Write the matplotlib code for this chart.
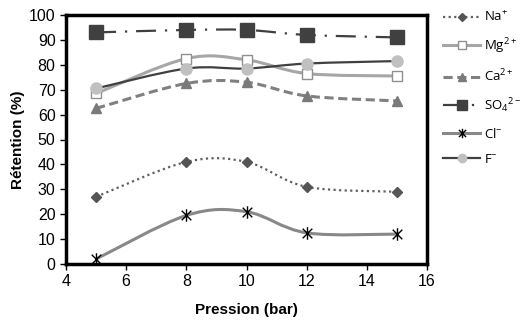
import numpy as np
import matplotlib
matplotlib.use("Agg")
from matplotlib import pyplot as plt
from matplotlib.path import Path
from matplotlib.patches import PathPatch
from matplotlib.lines import Line2D

# donnees
pression = [5, 8, 10, 12, 15]
na = [27, 41, 41, 31, 29]
mg = [68.5, 82.5, 82, 76.5, 75.5]
ca = [62.5, 72.5, 73, 67.5, 65.5]
so4 = [93, 94, 94, 92, 91]
cl = [2, 19.5, 21, 12.5, 12]
f = [70.5, 78.5, 78.5, 80.5, 81.5]

labels = ['Na$^{+}$', 'Mg$^{2+}$', 'Ca$^{2+}$', 'SO$_4$$^{2-}$', 'Cl$^{-}$', 'F$^{-}$']

plt.rcParams['font.family'] = ['Liberation Sans', 'DejaVu Sans']
plt.rcParams['mathtext.default'] = 'regular'

# marqueur etoile (x + barre verticale)
etoile = Path([(-1, -1), (1, 1), (-1, 1), (1, -1), (0, -1.3), (0, 1.3)],
              [Path.MOVETO, Path.LINETO, Path.MOVETO, Path.LINETO, Path.MOVETO, Path.LINETO])


def lisse(ax, x, y, **kw):
    # courbe lissee type Excel (Bezier)
    x = np.asarray(x, float)
    y = np.asarray(y, float)
    pts = np.column_stack([x, y])
    n = len(pts)
    verts = [pts[0]]
    codes = [Path.MOVETO]
    for i in range(n - 1):
        p0 = pts[i - 1] if i > 0 else pts[i]
        p1 = pts[i]
        p2 = pts[i + 1]
        p3 = pts[i + 2] if i + 2 < n else pts[i + 1]
        c1 = p1 + (p2 - p0) / 6
        c2 = p2 - (p3 - p1) / 6
        verts += [c1, c2, p2]
        codes += [Path.CURVE4] * 3
    ax.add_patch(PathPatch(Path(verts, codes), fill=False, **kw))


fig = plt.figure(figsize=(5.23, 3.25), dpi=100)
ax = fig.add_axes([66 / 523, 1 - 264 / 325, 361 / 523, 249 / 325])

series = [
    (na, dict(color='#606060', lw=1.6, ls=(0, (1, 1.5))), dict(marker='D', ms=5, mfc='#555555', mec='#555555')),
    (mg, dict(color='#a6a6a6', lw=2.2, ls='-'), dict(marker='s', ms=7, mfc='white', mec='#909090')),
    (ca, dict(color='#808080', lw=2.2, ls=(0, (3, 1.5))), dict(marker='^', ms=7, mfc='#7a7a7a', mec='#7a7a7a')),
    (so4, dict(color='#404040', lw=1.6, ls=(0, (9, 4, 1, 4))), dict(marker='s', ms=9.5, mfc='#404040', mec='#404040')),
    (cl, dict(color='#888888', lw=2.2, ls='-'), dict(marker=etoile, ms=9, mfc='none', mec='black', mew=1.0)),
    (f, dict(color='#404040', lw=1.6, ls='-'), dict(marker='o', ms=8, mfc='#c0c0c0', mec='#c0c0c0')),
]

handles = []
for (vals, lkw, mkw), lab in zip(series, labels):
    lisse(ax, pression, vals, color=lkw['color'], lw=lkw['lw'], ls=lkw['ls'], zorder=2)
    ax.plot(pression, vals, ls='none', zorder=3, **mkw)
    handles.append(Line2D([], [], color=lkw['color'], lw=lkw['lw'], ls=lkw['ls'], **mkw))

ax.set_xlim(4, 16)
ax.set_ylim(0, 100)
ax.set_xticks(range(4, 17, 2))
ax.set_yticks(range(0, 101, 10))
ax.tick_params(direction='out', length=4, width=1, labelsize=11.5)
for s in ax.spines.values():
    s.set_linewidth(2.5)
ax.set_xlabel('Pression (bar)', fontsize=11, fontweight='bold', labelpad=10)
ax.set_ylabel('Rétention (%)', fontsize=11, fontweight='bold', labelpad=3)

fig.legend(handles, labels, loc='upper left', bbox_to_anchor=(438 / 523, 1 - 5 / 325),
           frameon=False, handlelength=2.8, labelspacing=0.9, markerscale=0.75,
           handletextpad=0.3, borderaxespad=0, prop={'family': ['Open Sans', 'DejaVu Sans'], 'size': 9.5})

fig.savefig('out.png', dpi=100)
